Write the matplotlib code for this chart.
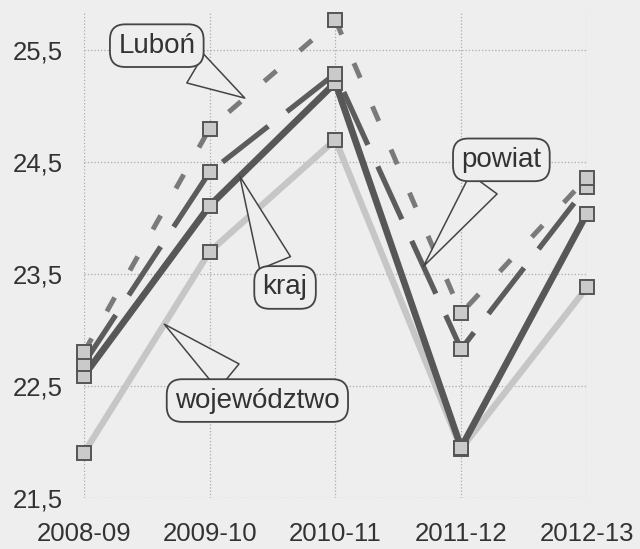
import numpy as np
import matplotlib
matplotlib.use("Agg")
import matplotlib.pyplot as plt

plt.rcParams['font.family'] = ['Liberation Sans', 'DejaVu Sans']

# data
years = ["2008-09", "2009-10", "2010-11", "2011-12", "2012-13"]
lubon = [22.80, 24.80, 25.77, 23.15, 24.36]
powiat = [22.70, 24.41, 25.29, 22.83, 24.28]
kraj = [22.59, 24.11, 25.21, 21.95, 24.04]
wojewodztwo = [21.90, 23.70, 24.70, 21.94, 23.38]
y_ticks = [21.5, 22.5, 23.5, 24.5, 25.5]

x = np.arange(len(years))
bg = "#eeeeee"

fig = plt.figure(figsize=(6.4, 5.49), dpi=100, facecolor=bg)
ax = fig.add_axes([0.131, 0.093, 0.786, 0.885], facecolor=bg)

# lines (bottom to top)
ax.plot(x, wojewodztwo, color="#c6c6c6", lw=4.6, zorder=2, solid_capstyle="butt")
ax.plot(x, kraj, color="#575757", lw=4.8, zorder=3, solid_capstyle="butt")
ax.plot(x, powiat, color="#5c5c5c", lw=3.8, dashes=[11, 4.5], zorder=3,
        dash_capstyle="butt")
ax.plot(x, lubon, color="#7a7a7a", lw=3.6, dashes=[3.2, 6.2], zorder=3,
        dash_capstyle="butt")

# square markers
for series in (wojewodztwo, kraj, powiat, lubon):
    ax.plot(x, series, ls="none", marker="s", ms=9.5, mfc="#cacaca",
            mec="#555555", mew=1.4, zorder=5, clip_on=False)

ax.set_xlim(0, 4)
ax.set_ylim(21.5, 25.84)
ax.set_xticks(x)
ax.set_xticklabels(years)
ax.set_yticks(y_ticks)
ax.set_yticklabels([f"{v:.1f}".replace(".", ",") for v in y_ticks])
ax.tick_params(axis="y", length=0, pad=15, labelsize=18.5, labelcolor="#333333")
ax.tick_params(axis="x", length=0, pad=17, labelsize=18.5, labelcolor="#333333")
ax.grid(True, color="#aaaaaa", ls=":", lw=0.9)
for s in ax.spines.values():
    s.set_visible(False)


def point_on(series, i, frac):
    # point a fraction of the way along segment i -> i+1
    return (x[i] + frac * (x[i + 1] - x[i]),
            series[i] + frac * (series[i + 1] - series[i]))


box = dict(boxstyle="round,pad=0.3,rounding_size=0.55", fc=bg, ec="#444444", lw=1.3)
wedge = dict(arrowstyle="wedge,tail_width=1.2,shrink_factor=0.5", fc=bg,
             ec="#444444", lw=1.1, shrinkB=0)

callouts = [
    ("Luboń", lubon, 1, 0.28, (0.58, 25.54)),
    ("kraj", kraj, 1, 0.24, (1.60, 23.38)),
    ("powiat", powiat, 2, 0.70, (3.32, 24.52)),
    ("województwo", wojewodztwo, 0, 0.64, (1.38, 22.37)),
]
for label, series, i, frac, pos in callouts:
    ax.annotate(label, xy=point_on(series, i, frac), xytext=pos,
                ha="center", va="center", fontsize=20, color="#333333",
                bbox=box, arrowprops=wedge, zorder=6)

fig.savefig("out.png", dpi=100, facecolor=bg)
